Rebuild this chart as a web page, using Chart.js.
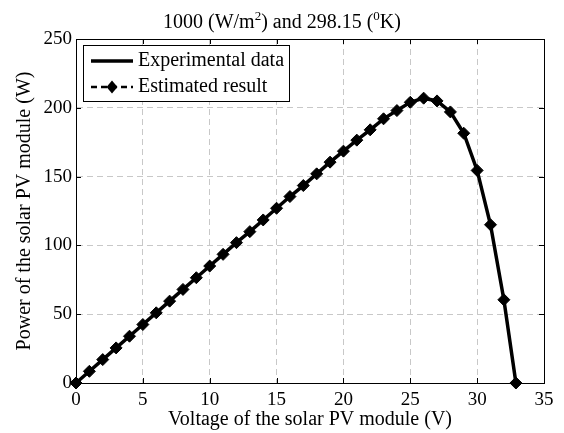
<!DOCTYPE html>
<html>
<head>
<meta charset="utf-8">
<script src="https://cdn.jsdelivr.net/npm/chart.js@4/dist/chart.umd.min.js"></script>
<style>
  html, body { margin: 0; padding: 0; background: #fff; }
  #wrap { width: 564px; height: 433px; }
</style>
</head>
<body>
<div id="wrap"><canvas id="pv" width="564" height="433"></canvas></div>
<script>
// Data (PV module at 1000 W/m2, 298.15 K)
const voltage = [0, 1, 2, 3, 4, 5, 6, 7, 8, 9, 10, 11, 12, 13, 14, 15, 16, 17,
  18, 19, 20, 21, 22, 23, 24, 25, 26, 27, 28, 29, 30, 31, 32, 32.9];
const experimental = [0, 8.5, 17, 25.5, 34, 42.5, 51, 59.5, 68, 76.5, 85, 93.5,
  102, 110, 118.5, 127, 135.5, 143.5, 152, 160.5, 168.5, 176.5, 184, 192, 198,
  204, 207, 205, 197, 181.5, 154.5, 115, 60.5, 0];
const estimated = [0, 8.5, 17, 25.5, 34, 42.5, 51, 59.5, 68, 76.5, 85, 93.5,
  102, 110, 118.5, 127, 135.5, 143.5, 152, 160.5, 168.5, 176.5, 184, 192, 198,
  204, 207, 205, 197, 181.5, 154.5, 115, 60.5, 0];
const legendLabels = ['Experimental data', 'Estimated result'];
// title pieces: [text, superscript?]
const titleParts = [['1000 (W/m', false], ['2', true], [') and 298.15 (', false], ['0', true], ['K)', false]];
const xTitle = 'Voltage of the solar PV module (V)';
const yTitle = 'Power of the solar PV module (W)';

const SERIF = "'Liberation Serif', 'Times New Roman', serif";

function toPoints(xs, ys) {
  return xs.map((x, i) => ({ x: x, y: ys[i] }));
}

// Title with real superscripts, centred on the figure
const supTitle = {
  id: 'supTitle',
  afterDraw(chart) {
    const ctx = chart.ctx;
    const big = '20px ' + SERIF, small = '13px ' + SERIF;
    ctx.save();
    ctx.fillStyle = '#000';
    ctx.textBaseline = 'alphabetic';
    ctx.textAlign = 'left';
    let total = 0;
    titleParts.forEach(([t, sup]) => { ctx.font = sup ? small : big; total += ctx.measureText(t).width; });
    let x = chart.width / 2 - total / 2;
    const base = 28;
    titleParts.forEach(([t, sup]) => {
      ctx.font = sup ? small : big;
      ctx.fillText(t, x, sup ? base - 8 : base);
      x += ctx.measureText(t).width;
    });
    ctx.restore();
  }
};

// Axes box with inward ticks, MATLAB style
const framePlugin = {
  id: 'frame',
  beforeDatasetsDraw(chart) {
    const { ctx, chartArea: a, scales } = chart;
    const tl = 5;
    ctx.save();
    ctx.strokeStyle = '#000';
    ctx.lineWidth = 1;
    ctx.setLineDash([]);
    ctx.beginPath();
    scales.x.ticks.forEach(t => {
      const px = Math.round(scales.x.getPixelForValue(t.value)) + 0.5;
      ctx.moveTo(px, a.bottom); ctx.lineTo(px, a.bottom - tl);
      ctx.moveTo(px, a.top); ctx.lineTo(px, a.top + tl);
    });
    scales.y.ticks.forEach(t => {
      const py = Math.round(scales.y.getPixelForValue(t.value)) + 0.5;
      ctx.moveTo(a.left, py); ctx.lineTo(a.left + tl, py);
      ctx.moveTo(a.right, py); ctx.lineTo(a.right - tl, py);
    });
    ctx.stroke();
    ctx.strokeRect(Math.round(a.left) + 0.5, Math.round(a.top) + 0.5,
      Math.round(a.right - a.left), Math.round(a.bottom - a.top));
    ctx.restore();
  }
};

// Legend box inside the top-left corner of the axes
const boxLegend = {
  id: 'boxLegend',
  afterDraw(chart) {
    const ctx = chart.ctx;
    const bx = 83.5, by = 45.5, bw = 206, bh = 56;
    const rows = [61, 87];
    ctx.save();
    ctx.fillStyle = '#fff';
    ctx.fillRect(bx, by, bw, bh);
    ctx.strokeStyle = '#000';
    ctx.lineWidth = 1;
    ctx.strokeRect(bx, by, bw, bh);

    // solid sample
    ctx.lineWidth = 3.5;
    ctx.beginPath();
    ctx.moveTo(91, rows[0]); ctx.lineTo(133, rows[0]);
    ctx.stroke();

    // dashed sample with diamond
    ctx.lineWidth = 2.5;
    ctx.setLineDash([6, 4]);
    ctx.beginPath();
    ctx.moveTo(91, rows[1]); ctx.lineTo(133, rows[1]);
    ctx.stroke();
    ctx.setLineDash([]);
    ctx.fillStyle = '#000';
    ctx.beginPath();
    ctx.moveTo(112, rows[1] - 6.5);
    ctx.lineTo(117.5, rows[1]);
    ctx.lineTo(112, rows[1] + 6.5);
    ctx.lineTo(106.5, rows[1]);
    ctx.closePath();
    ctx.fill();

    ctx.font = '20px ' + SERIF;
    ctx.textBaseline = 'middle';
    ctx.textAlign = 'left';
    ctx.fillText(legendLabels[0], 138, rows[0]);
    ctx.fillText(legendLabels[1], 138, rows[1]);
    ctx.restore();
  }
};

const gridStyle = {
  color: '#c8c8c8',
  lineWidth: 1,
  drawTicks: false,
  tickLength: 0
};

new Chart(document.getElementById('pv'), {
  type: 'line',
  data: {
    datasets: [
      {
        label: legendLabels[0],
        data: toPoints(voltage, experimental),
        borderColor: '#000',
        borderWidth: 3.5,
        pointRadius: 0,
        fill: false,
        tension: 0,
        clip: false
      },
      {
        label: legendLabels[1],
        data: toPoints(voltage, estimated),
        borderColor: '#000',
        backgroundColor: '#000',
        borderWidth: 2,
        borderDash: [6, 4],
        pointStyle: 'rectRot',
        pointRadius: 6,
        pointBorderWidth: 1,
        pointBackgroundColor: '#000',
        pointBorderColor: '#000',
        fill: false,
        tension: 0,
        clip: false
      }
    ]
  },
  options: {
    responsive: false,
    animation: false,
    layout: {
      autoPadding: false,
      padding: { left: 0, right: 20, top: 39, bottom: 0 }
    },
    plugins: {
      legend: { display: false },
      tooltip: { enabled: false },
      title: { display: false }
    },
    scales: {
      x: {
        type: 'linear',
        min: 0,
        max: 35,
        afterFit: s => { s.height = 50; },
        ticks: {
          stepSize: 5,
          color: '#000',
          padding: 6,
          maxRotation: 0,
          font: { family: SERIF, size: 19 }
        },
        grid: { ...gridStyle },
        border: { display: true, color: '#000', dash: [6, 4] },
        title: {
          display: true,
          text: xTitle,
          color: '#000',
          font: { family: SERIF, size: 20, lineHeight: 1.2 },
          padding: { top: 0, bottom: 1 }
        }
      },
      y: {
        min: 0,
        max: 250,
        afterFit: s => { s.width = 76; },
        ticks: {
          stepSize: 50,
          color: '#000',
          padding: 4,
          font: { family: SERIF, size: 19 }
        },
        grid: { ...gridStyle },
        border: { display: true, color: '#000', dash: [6, 4] },
        title: {
          display: true,
          text: yTitle,
          color: '#000',
          font: { family: SERIF, size: 20, lineHeight: 1.2 },
          padding: { top: 13, bottom: 0 }
        }
      }
    }
  },
  plugins: [framePlugin, boxLegend, supTitle]
});
</script>
</body>
</html>
